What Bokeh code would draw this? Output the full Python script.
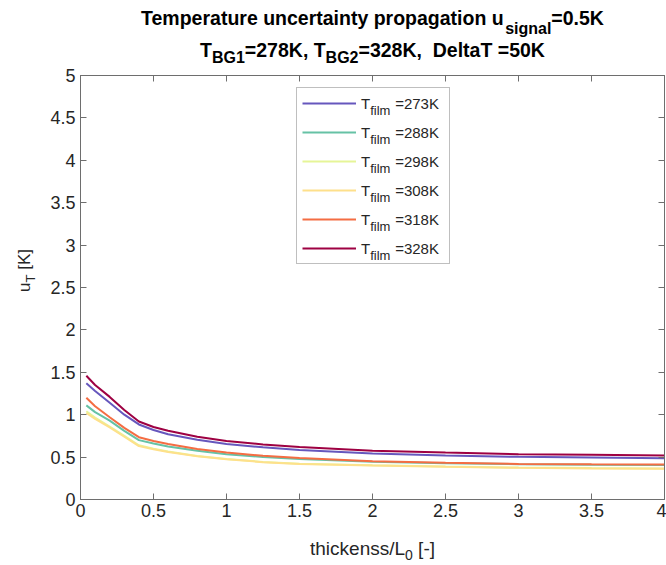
import math
from bokeh.plotting import figure
from bokeh.layouts import column, row
from bokeh.models import Label, Legend, LegendItem, LinearAxis, FixedTicker, Range1d
from bokeh.embed import file_html
from bokeh.resources import INLINE

# ---------------- data ----------------
x_ratio = [0.04, 0.1, 0.2, 0.3, 0.4, 0.5, 0.6, 0.8, 1.0, 1.25, 1.5, 2.0, 2.5, 3.0, 3.5, 4.0]

u_273 = [1.37, 1.28, 1.14, 1.00, 0.885, 0.82, 0.77, 0.705, 0.655, 0.615, 0.585, 0.543, 0.52, 0.503, 0.494, 0.487]
u_288 = [1.11, 1.03, 0.93, 0.81, 0.70, 0.66, 0.625, 0.575, 0.535, 0.50, 0.477, 0.445, 0.428, 0.416, 0.41, 0.407]
u_298 = [1.04, 0.965, 0.86, 0.75, 0.64, 0.60, 0.565, 0.513, 0.478, 0.443, 0.423, 0.403, 0.388, 0.377, 0.37, 0.365]
u_308 = [1.02, 0.95, 0.85, 0.74, 0.63, 0.593, 0.56, 0.51, 0.475, 0.44, 0.42, 0.40, 0.385, 0.374, 0.367, 0.362]
u_318 = [1.20, 1.10, 0.97, 0.845, 0.735, 0.69, 0.655, 0.595, 0.555, 0.515, 0.49, 0.452, 0.433, 0.42, 0.415, 0.412]
u_328 = [1.46, 1.35, 1.21, 1.055, 0.92, 0.855, 0.81, 0.74, 0.69, 0.65, 0.62, 0.575, 0.553, 0.535, 0.527, 0.52]

series = [u_273, u_288, u_298, u_308, u_318, u_328]
t_film_labels = ["=273K", "=288K", "=298K", "=308K", "=318K", "=328K"]
colors = ["#6657bd", "#66c2a5", "#e6f598", "#fee08b", "#f46d43", "#9e0142"]

x_ticks = [0, 0.5, 1, 1.5, 2, 2.5, 3, 3.5, 4]
x_tick_labels = ["0", "0.5", "1", "1.5", "2", "2.5", "3", "3.5", "4"]
y_ticks = [0, 0.5, 1, 1.5, 2, 2.5, 3, 3.5, 4, 4.5, 5]
y_tick_labels = ["0", "0.5", "1", "1.5", "2", "2.5", "3", "3.5", "4", "4.5", "5"]

# ---------------- page geometry ----------------
W, H = 666, 565
TITLE_H = 67          # title strip
YLAB_W = 40           # y-label strip
XLAB_H = 35           # x-label strip
FRAME_L, FRAME_T, FRAME_W, FRAME_H = 80, 75, 584, 424
FRAME_R = W - FRAME_L - FRAME_W
MAIN_W = W - YLAB_W
MAIN_H = H - TITLE_H - XLAB_H
FONT = "Liberation Sans"
AX = "#6e6e6e"
TXT = "#262626"
NB = "\u00a0"
KSHIFT = 0.28         # offset of the Label anchor vs. glyph baseline (in em)

REG = {' ': 278, NB: 278, '[': 278, ']': 278, '-': 333, '/': 278, '=': 584, 'K': 667, 'L': 556,
       'T': 611, 'a': 556, 'c': 500, 'e': 556, 'f': 278, 'h': 556, 'i': 222, 'k': 500, 'l': 222,
       'm': 833, 'n': 556, 's': 500, 't': 278, 'u': 556, '.': 278}
BOLD = {' ': 278, NB: 278, 'T': 611, 'e': 556, 'm': 889, 'p': 611, 'r': 389, 'a': 556, 't': 333,
        'u': 611, 'c': 556, 'n': 611, 'i': 278, 'y': 556, 'o': 611, 'g': 611, 's': 556, 'l': 278,
        '=': 584, '.': 278, 'K': 722, 'B': 722, 'G': 778, ',': 278, 'D': 722}


def tw(s, size, bold):
    tab = BOLD if bold else REG
    return sum(tab.get(ch, 556) for ch in s) * size / 1000.0


def strip(width, height, x0, y0, bl=0, br=0):
    """A blank figure whose data coordinates equal page pixels (y downwards)."""
    f = figure(width=width, height=height, x_range=Range1d(x0 + bl, x0 + width - br),
               y_range=Range1d(y0 + height, y0), x_axis_type=None, y_axis_type=None,
               output_backend="svg", toolbar_location=None, min_border=0,
               min_border_left=bl, min_border_right=br,
               outline_line_color=None, background_fill_color="white",
               border_fill_color="white")
    f.xgrid.visible = False
    f.ygrid.visible = False
    return f


def compose(fig, parts, center_cx, base_cy, bold, color):
    total = sum(tw(t, s, bold) for t, s, dy in parts)
    cx = center_cx - total / 2.0
    for t, s, dy in parts:
        fig.add_layout(Label(x=cx, y=base_cy + dy - KSHIFT * s, text=t, text_font=FONT,
                             text_font_size=f"{s}px",
                             text_font_style="bold" if bold else "normal", text_color=color,
                             text_baseline="alphabetic", text_align="left"))
        cx += tw(t, s, bold)


CENTER = FRAME_L + FRAME_W / 2.0

# ---------------- title strip ----------------
title_fig = strip(W, TITLE_H, 0, 0)
compose(title_fig, [("Temperature uncertainty propagation u", 19.5, 0), ("signal", 16, 9),
                    ("=0.5K", 19.5, 0)], CENTER, 23, True, "black")
compose(title_fig, [("T", 19.5, 0), ("BG1", 16, 7), ("=278K, ", 19.5, 0), ("T", 19.5, 0),
                    ("BG2", 16, 7), ("=328K," + NB + NB + "DeltaT =50K", 19.5, 0)],
        CENTER, 54.5, True, "black")

# ---------------- y-label strip ----------------
ylab_fig = strip(YLAB_W, H - TITLE_H, 0, TITLE_H)
parts = [("u", 17, 0), ("T", 13, 5), (NB + "[K]", 17, 0)]
total = sum(tw(t, s, False) for t, s, dy in parts)
cy = 270 + total / 2.0
for t, s, dy in parts:
    ylab_fig.add_layout(Label(x=29 + dy - KSHIFT * s, y=cy, text=t, text_font=FONT,
                              text_font_size=f"{s}px",
                              text_color=TXT, angle=math.pi / 2, angle_units="rad",
                              text_baseline="alphabetic", text_align="left"))
    cy -= tw(t, s, False)

# ---------------- main plot ----------------
p = figure(width=MAIN_W, height=MAIN_H, x_range=Range1d(0, 4), y_range=Range1d(0, 5),
           output_backend="svg", toolbar_location=None,
           min_border_left=FRAME_L - YLAB_W, min_border_right=FRAME_R,
           min_border_top=FRAME_T - TITLE_H,
           min_border_bottom=MAIN_H - (FRAME_T - TITLE_H) - FRAME_H)
p.xgrid.visible = False
p.ygrid.visible = False
p.outline_line_color = AX
p.background_fill_color = "white"
p.border_fill_color = "white"

for ax, ticks, labels in ((p.xaxis[0], x_ticks, x_tick_labels), (p.yaxis[0], y_ticks, y_tick_labels)):
    ax.ticker = FixedTicker(ticks=ticks)
    ax.major_label_overrides = {float(t): l for t, l in zip(ticks, labels)}
    ax.axis_line_color = AX
    ax.major_tick_line_color = AX
    ax.major_tick_in = 6
    ax.major_tick_out = 0
    ax.minor_tick_line_color = None
    ax.major_label_text_font = FONT
    ax.major_label_text_font_size = "18px"
    ax.major_label_text_color = TXT
p.xaxis[0].major_label_standoff = 4
p.yaxis[0].major_label_standoff = 5

for loc, ticks in (("above", x_ticks), ("right", y_ticks)):
    ax = LinearAxis(ticker=FixedTicker(ticks=ticks),
                    major_label_overrides={float(t): "" for t in ticks},
                    major_label_text_font_size="0px", major_label_standoff=0,
                    axis_line_color=AX, major_tick_line_color=AX,
                    major_tick_in=6, major_tick_out=0, minor_tick_line_color=None)
    p.add_layout(ax, loc)

renderers = []
for ys, c in zip(series, colors):
    renderers.append(p.line(x_ratio, ys, line_color=c, line_width=2))


def fx(cx):
    return cx - FRAME_L


def fy(cy):
    return FRAME_T + FRAME_H - cy


# legend: "T" + gap + value in the legend itself, the "film" subscript laid over it
LEG_L, LEG_B = 296, 264
PAD, GW, GH, SP, STAND, LW = 5, 54, 20, 9, 5, 83
LEG_FS = 15
GAP = NB * 6
legend = Legend(items=[LegendItem(label="T" + GAP + lab, renderers=[r])
                       for r, lab in zip(renderers, t_film_labels)],
                location=(fx(LEG_L), fy(LEG_B)), padding=PAD, spacing=SP,
                glyph_width=GW, glyph_height=GH, label_height=GH, label_width=LW,
                label_standoff=STAND, margin=0,
                border_line_color="#808080", border_line_width=1,
                background_fill_color="white", background_fill_alpha=0.0,
                label_text_font=FONT, label_text_font_size=f"{LEG_FS}px",
                label_text_color=TXT, label_text_baseline="alphabetic")
p.add_layout(legend)

leg_h = 2 * PAD + 6 * GH + 5 * SP
leg_top = LEG_B - leg_h
text_x = LEG_L + PAD + GW + STAND
for i in range(len(t_film_labels)):
    row_c = leg_top + PAD + i * (GH + SP) + GH / 2
    sx = text_x + tw("T", LEG_FS, False) + 0.5
    p.add_layout(Label(x=fx(sx), y=fy(row_c + 10 - KSHIFT * 13), x_units="screen", y_units="screen",
                       text="film", text_font=FONT, text_font_size="13px", text_color=TXT,
                       text_baseline="alphabetic", text_align="left", level="overlay"))

# ---------------- x-label strip (frame aligned with the plot frame) ----------------
xlab_fig = strip(MAIN_W, XLAB_H, YLAB_W, H - XLAB_H, bl=FRAME_L - YLAB_W, br=FRAME_R)
compose(xlab_fig, [("thickenss/L", 19, 0), ("0", 14, 5), (NB + "[-]", 19, 0)], CENTER, 553, False, TXT)

page = column(title_fig, row(ylab_fig, column(p, xlab_fig, spacing=0), spacing=0), spacing=0)

open("out.html", "w").write(file_html(page, INLINE))
